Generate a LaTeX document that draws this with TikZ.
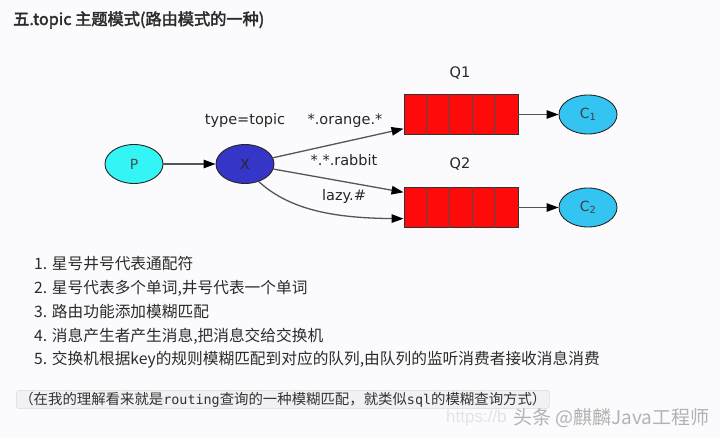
\documentclass[tikz,border=0pt]{standalone}
\usepackage{fontspec}
\setmainfont{DejaVu Sans}
\newfontfamily\cjk{Noto Sans CJK SC}
\newfontfamily\cjkbold[FakeBold=2.4]{Noto Sans CJK SC}
\newfontfamily\monof{DejaVu Sans Mono}
\newfontfamily\lib{Liberation Sans}
\usetikzlibrary{arrows.meta,shapes.geometric}
\definecolor{bg}{HTML}{FBFBFD}
\definecolor{pcol}{HTML}{33F5F5}
\definecolor{xcol}{HTML}{3535C8}
\definecolor{ccol}{HTML}{33C4F2}
\definecolor{qred}{HTML}{FF0A0A}
\definecolor{edgec}{HTML}{555555}
\definecolor{notebg}{HTML}{F1F1F3}
\definecolor{noteline}{HTML}{DADADE}
\definecolor{txt}{HTML}{2B2B2B}
\begin{document}
\begin{tikzpicture}[x=1pt,y=-1pt,
  ell/.style={ellipse,draw=black!85,line width=0.9pt,minimum width=58pt,minimum height=39pt,inner sep=0pt,font=\fontsize{14}{14}\selectfont},
  qbox/.style={rectangle,draw=black!80,line width=0.9pt,fill=qred,minimum width=114pt,minimum height=39.5pt,inner sep=0pt},
  qline/.style={draw=black!70,line width=0.8pt},
  edge/.style={draw=edgec,line width=1.3pt,-{Triangle[length=12pt,width=8.5pt,color=black]}},
  lbl/.style={font=\fontsize{14.5}{14.5}\selectfont,text=black!85,inner sep=0pt},
  item/.style={font=\cjk\fontsize{15.7}{15.7}\selectfont,text=txt,anchor=west,inner sep=0pt},
  notebox/.style={fill=notebg,draw=noteline,line width=0.6pt,rounded corners=3pt,inner xsep=3pt,inner ysep=1.5pt,text=black!80},
]
\fill[bg] (0,0) rectangle (720,438);
\useasboundingbox (0,0) rectangle (720,438);

% title
\node[anchor=west,inner sep=0pt,text=txt,font=\cjkbold\fontsize{16.2}{16.2}\selectfont] (title) at (13,20) {五.topic 主题模式(路由模式的一种)};

% nodes
\node[ell,fill=pcol,text=black!70] (p) at (134,164) {P};
\node[ell,fill=xcol,text=black!85] (x) at (245,164) {X};
\node[qbox] (q1) at (461,114.5) {};
\node[qbox] (q2) at (461,207.5) {};
\foreach \q in {q1,q2}{
  \foreach \k in {1,2,3,4}{
    \draw[qline] ([xshift=\k*22.8pt]\q.south west) -- ([xshift=\k*22.8pt]\q.north west);
  }
}
\node[ell,fill=ccol,text=black!75] (c1) at (588,114.5) {C\textsubscript{1}};
\node[ell,fill=ccol,text=black!75] (c2) at (588,207.5) {C\textsubscript{2}};

% labels
\node[lbl] (q1l) at (460,73) {Q1};
\node[lbl] (q2l) at (460,164) {Q2};
\node[lbl] (type) at (245,121) {type=topic};
\node[lbl] (orange) at (345,121) {*.orange.*};
\node[lbl] (rabbit) at (344,160) {*.*.rabbit};
\node[lbl] (lazy) at (344,197) {lazy.\#};

% edges
\draw[edge] (p) -- (x);
\draw[edge] (x) -- ([yshift=6pt]q1.south west);
\draw[edge] (x) -- ([yshift=-5pt]q2.north west);
\draw[edge] (x.-52) .. controls (292,212) and (340,218) .. ([yshift=9pt]q2.south west);
\draw[edge] (q1) -- (c1);
\draw[edge] (q2) -- (c2);

% list
\node[item] (i1) at (34,264) {1. 星号井号代表通配符};
\node[item] (i2) at (34,288) {2. 星号代表多个单词,井号代表一个单词};
\node[item] (i3) at (34,312) {3. 路由功能添加模糊匹配};
\node[item] (i4) at (34,336) {4. 消息产生者产生消息,把消息交给交换机};
\node[item] (i5) at (34,360) {5. 交换机根据key的规则模糊匹配到对应的队列,由队列的监听消费者接收消息消费};

% note
\node[notebox,anchor=west] (note) at (16,399.5) {\cjk\fontsize{14.4}{14.4}\selectfont （在我的理解看来就是{\monof\fontsize{13.4}{13.4}\selectfont routing}查询的一种模糊匹配，就类似{\monof\fontsize{13.4}{13.4}\selectfont sql}的模糊查询方式）};

% watermark
\node[anchor=west,inner sep=0pt,text=gray!22,font=\lib\fontsize{17}{17}\selectfont] (url) at (446,418) {https://b};
\node[anchor=west,inner sep=0pt,text=gray!60,font=\cjk\fontsize{19}{19}\selectfont] (wm) at (513,418) {头条 @麒麟Java工程师};
\end{tikzpicture}
\end{document}
